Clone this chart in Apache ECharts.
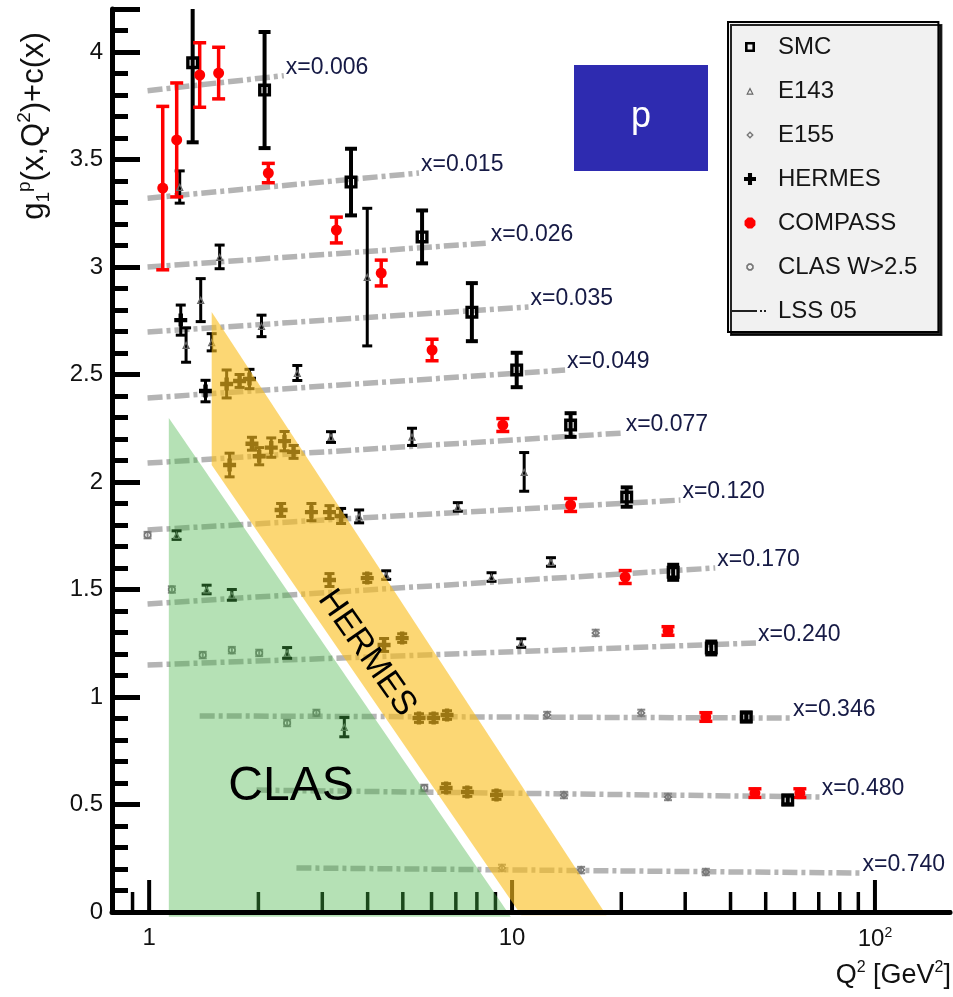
<!DOCTYPE html>
<html><head><meta charset="utf-8">
<script src="https://cdn.jsdelivr.net/npm/echarts@6/dist/echarts.min.js"></script>
<style>html,body{margin:0;padding:0;background:#fff}#c{width:953px;height:997px}</style>
</head><body><div id="c"></div>
<script>
// ---------------- data ----------------
// LSS 05 curves: [Q2, g1p + c(x)] read at the ends of each curve
const lssLabels = ['x=0.006','x=0.015','x=0.026','x=0.035','x=0.049','x=0.077','x=0.120','x=0.170','x=0.240','x=0.346','x=0.480','x=0.740'];
const lss006 = [[0.99,3.82],[2.35,3.89]];
const lss015 = [[0.99,3.32],[5.54,3.437]];
const lss026 = [[0.99,3.0],[8.63,3.112]];
const lss035 = [[0.99,2.698],[11.1,2.814]];
const lss049 = [[0.99,2.391],[14.0,2.521]];
const lss077 = [[0.99,2.088],[20.3,2.228]];
const lss120 = [[0.99,1.777],[29.1,1.916]];
const lss170 = [[0.99,1.433],[36.3,1.60]];
const lss240 = [[0.99,1.149],[47.0,1.251]];
const lss346 = [[1.378,0.912],[58.7,0.902]];
const lss480 = [[1.976,0.567],[70.5,0.535]];
const lss740 = [[2.546,0.205],[91.3,0.181]];
const lssCurves = [lss006,lss015,lss026,lss035,lss049,lss077,lss120,lss170,lss240,lss346,lss480,lss740];

// experiments: [Q2, value, error]
const SMC = [
 [1.318,3.95,0.37],[2.08,3.823,0.27],[3.60,3.395,0.155],[5.65,3.14,0.123],[7.75,2.79,0.135],
 [10.3,2.521,0.08],[14.5,2.265,0.055],[20.7,1.93,0.045],[27.8,1.58,0.035],[35.4,1.228,0.03],
 [44.2,0.907,0.02],[57.5,0.521,0.02]
];
const E143 = [
 [1.214,3.372,0.075],[1.564,3.047,0.055],[3.99,2.953,0.32],[1.387,2.846,0.1],[1.264,2.637,0.08],
 [1.487,2.65,0.04],[2.04,2.726,0.05],[2.56,2.507,0.035],[3.17,2.209,0.025],[5.30,2.21,0.04],
 [10.8,2.047,0.09],[7.09,1.884,0.02],[3.79,1.84,0.03],[1.19,1.753,0.02],[1.44,1.50,0.02],[1.69,1.475,0.025],
 [4.5,1.567,0.02],[8.78,1.558,0.02],[12.8,1.628,0.02],[2.40,1.205,0.025],[10.6,1.251,0.02],[3.45,0.86,0.045]
];
const E155 = [
 [9.38,0.205,0.015],[15.5,0.195,0.015],[34.2,0.186,0.015],[13.9,0.544,0.015],[26.9,0.535,0.015],
 [12.5,0.916,0.015],[22.7,0.926,0.015],[17.0,1.298,0.015]
];
const HERMES = [
 [1.222,2.753,0.07],[1.43,2.423,0.05],[1.635,2.456,0.065],[1.775,2.47,0.03],[1.89,2.479,0.045],
 [1.666,2.079,0.055],[1.92,2.178,0.03],[2.01,2.12,0.04],[2.17,2.16,0.045],[2.36,2.19,0.045],[2.50,2.14,0.03],
 [2.31,1.87,0.03],[2.80,1.86,0.04],[3.14,1.86,0.03],[3.38,1.842,0.035],
 [3.14,1.544,0.03],[3.99,1.553,0.02],[4.44,1.242,0.03],[4.98,1.274,0.02],
 [5.54,0.902,0.02],[6.08,0.902,0.02],[6.62,0.916,0.02],[6.58,0.577,0.02],[7.53,0.558,0.02],[9.06,0.544,0.02]
];
const COMPASS = [
 [1.09,3.367,0.38],[1.191,3.591,0.265],[1.378,3.893,0.15],[1.554,3.902,0.12],[2.13,3.437,0.045],
 [3.28,3.172,0.06],[4.36,2.972,0.06],[6.02,2.614,0.05],[9.43,2.265,0.03],[14.5,1.893,0.03],
 [20.5,1.558,0.03],[26.9,1.307,0.02],[34.2,0.907,0.02],[46.7,0.553,0.02],[62.1,0.553,0.02]
];
const CLAS = [
 [0.99,1.753,0.015],[1.155,1.50,0.015],[1.405,1.195,0.015],[1.69,1.218,0.015],[2.01,1.205,0.015],
 [2.40,0.879,0.015],[2.89,0.926,0.015],[5.73,0.577,0.015]
];
// kinematic regions [Q2, y]
const clasRegion = [[1.133,2.298],[1.133,-0.022],[9.92,-0.022]];
const hermesRegion = [[1.487,2.791],[1.487,2.079],[10.6,-0.015],[18.2,-0.015]];
// axis ticks
const xMajorTicks = [1, 10, 100];
const xMinorTicks = [0.9, 2, 3, 4, 5, 6, 7, 8, 9, 20, 30, 40, 50, 60, 70, 80, 90];

// ---------------- styles ----------------
const FONT = '"Liberation Sans", Arial, Helvetica, sans-serif';
const P_SQ = 'M0,0H10V10H0Z M2.6,2.6V7.4H7.4V2.6Z';
const P_TRI = 'M5,0L10,10H0Z M5,3.8L2.4,8.4H7.6Z';
const P_DIA = 'M5,0L10,5L5,10L0,5Z M5,2.6L2.6,5L5,7.4L7.4,5Z';
const P_RING = 'M3,0H7L10,3V7L7,10H3L0,7V3Z M4,2.2L2.2,4V6L4,7.8H6L7.8,6V4L6,2.2Z';
const P_PLUS = 'M3.3,0H6.7V3.3H10V6.7H6.7V10H3.3V6.7H0V3.3H3.3Z';
const P_DOT = 'M3,0H7L10,3V7L7,10H3L0,7V3Z';

function errSeries(name, rows, color, lw, cap, z) {
  return {
    type: 'custom', name: name + ' err', data: rows, encode: {x: 0, y: 1}, z: z, silent: true, clip: true,
    renderItem: function (params, api) {
      const x = api.value(0), y = api.value(1), e = api.value(2);
      const t = api.coord([x, y + e]), b = api.coord([x, y - e]);
      const st = {stroke: color, lineWidth: lw};
      return {type: 'group', children: [
        {type: 'line', shape: {x1: t[0], y1: t[1], x2: b[0], y2: b[1]}, style: st},
        {type: 'line', shape: {x1: t[0] - cap / 2, y1: t[1], x2: t[0] + cap / 2, y2: t[1]}, style: st},
        {type: 'line', shape: {x1: b[0] - cap / 2, y1: b[1], x2: b[0] + cap / 2, y2: b[1]}, style: st}
      ]};
    }
  };
}
function markSeries(name, rows, symbol, size, color, z) {
  return {type: 'scatter', name: name, data: rows.map(function (r) { return [r[0], r[1]]; }),
    symbol: symbol, symbolSize: size, itemStyle: {color: color, opacity: 1}, z: z, silent: true};
}
function tickSeries(vals, len, lw) {
  return {type: 'custom', data: vals.map(function (v) { return [v, 0]; }), encode: {x: 0, y: 1}, z: 3, silent: true, clip: false,
    renderItem: function (p, api) {
      const c = api.coord([api.value(0), 0]);
      return {type: 'line', shape: {x1: c[0], y1: c[1], x2: c[0], y2: c[1] - len}, style: {stroke: '#000', lineWidth: lw}};
    }};
}
function regionSeries(verts, fill) {
  return {type: 'custom', data: verts, encode: {x: 0, y: 1}, z: 5, silent: true, clip: false,
    renderItem: function (p, api) {
      if (p.dataIndex !== 0) return null;
      return {type: 'polygon', shape: {points: verts.map(function (v) { return api.coord(v); })}, style: {fill: fill}};
    }};
}

const series = [];
lssCurves.forEach(function (c, i) {
  series.push({
    type: 'line', name: 'LSS 05', data: c, showSymbol: false, symbol: 'none', z: 2, silent: true,
    lineStyle: {color: '#b4b4b4', width: 5.5, type: [15, 4, 4, 4]},
    itemStyle: {color: '#222'},
    endLabel: {show: true, formatter: lssLabels[i], color: '#161a45', fontSize: 23, fontFamily: FONT, distance: 2, offset: [0, -8]}
  });
});
series.push(errSeries('SMC', SMC, '#000', 4, 12, 3));
series.push(errSeries('E143', E143, '#000', 3, 10, 3));
series.push(errSeries('E155', E155, '#888', 2, 8, 3));
series.push(errSeries('HERMES', HERMES, '#000', 3, 10, 3));
series.push(errSeries('COMPASS', COMPASS, '#f00', 3.5, 13, 3));
series.push(errSeries('CLAS W>2.5', CLAS, '#888', 2, 8, 3));
series.push(markSeries('SMC', SMC, 'path://' + P_SQ, 13, '#000', 4));
series.push(markSeries('E143', E143, 'path://' + P_TRI, 8, '#666', 4));
series.push(markSeries('E155', E155, 'path://' + P_DIA, 9, '#777', 4));
series.push(markSeries('HERMES', HERMES, 'path://' + P_PLUS, 13, '#000', 4));
series.push(markSeries('COMPASS', COMPASS, 'circle', 11, '#f00', 4));
series.push(markSeries('CLAS W>2.5', CLAS, 'path://' + P_RING, 8, '#777', 4));
series.push(tickSeries(xMajorTicks, 32, 4));
series.push(tickSeries(xMinorTicks, 20, 3.5));
series.push(regionSeries(clasRegion, 'rgba(70,180,70,0.40)'));
series.push(regionSeries(hermesRegion, 'rgba(250,190,30,0.62)'));

const option = {
  animation: false,
  backgroundColor: '#fff',
  grid: {left: 112, right: 0, top: 9, bottom: 85},
  xAxis: [{
    type: 'log', logBase: 10, min: 0.79, max: 161, position: 'bottom', z: 6,
    axisLine: {show: true, onZero: false, lineStyle: {color: '#000', width: 4}},
    axisTick: {show: false}, minorTick: {show: false}, splitLine: {show: false},
    axisLabel: {
      margin: 14, fontSize: 24, fontFamily: FONT, color: '#111',
      formatter: function (v) {
        const e = Math.log10(v), r = Math.round(e);
        if (Math.abs(e - r) > 1e-6) return '';
        return r === 2 ? '{b|10}{s|2}' : String(Math.round(Math.pow(10, r)));
      },
      rich: {b: {fontSize: 24, fontFamily: FONT, color: '#111', lineHeight: 26},
             s: {fontSize: 14, fontFamily: FONT, color: '#111', lineHeight: 14, verticalAlign: 'top'}}
    }
  }, {
    type: 'value', position: 'top', min: 0, max: 1, z: 6,
    axisLine: {show: true, lineStyle: {color: '#000', width: 5}},
    axisTick: {show: false}, axisLabel: {show: false}, splitLine: {show: false}
  }],
  yAxis: [{
    type: 'value', min: 0, max: 4.2, interval: 0.5, position: 'left', z: 6,
    axisLine: {show: true, onZero: false, lineStyle: {color: '#000', width: 5}},
    axisTick: {show: true, inside: true, length: 28, lineStyle: {color: '#000', width: 5}},
    axisLabel: {fontSize: 24, fontFamily: FONT, color: '#111', margin: 9,
      formatter: function (v) { return v > 4.1 ? '' : String(v); }},
    splitLine: {show: false}
  }, {
    type: 'value', min: 0, max: 4.2, interval: 0.1, position: 'left', z: 6,
    axisLine: {show: false},
    axisTick: {show: true, inside: true, length: 16, lineStyle: {color: '#000', width: 5}},
    axisLabel: {show: false}, splitLine: {show: false}
  }],
  legend: {
    left: 728, top: 22, orient: 'vertical',
    padding: [12, 21, 8, 4], itemGap: 18, itemWidth: 46, itemHeight: 12,
    backgroundColor: '#f1f1f1', borderColor: '#000', borderWidth: 2,
    shadowColor: 'rgba(0,0,0,0.85)', shadowOffsetX: 3, shadowOffsetY: 3, shadowBlur: 0,
    selectedMode: false,
    textStyle: {fontSize: 24, fontFamily: FONT, color: '#151515', lineHeight: 26},
    data: [
      {name: 'SMC', icon: 'path://M-1,-1M11,11 ' + P_SQ},
      {name: 'E143', icon: 'path://M-3,-3M13,13 ' + P_TRI},
      {name: 'E155', icon: 'path://M-3,-3M13,13 ' + P_DIA},
      {name: 'HERMES', icon: 'path://' + P_PLUS},
      {name: 'COMPASS', icon: 'path://M-0.5,-0.5M10.5,10.5 ' + P_DOT},
      {name: 'CLAS W>2.5', icon: 'path://M-3,-3M13,13 ' + P_RING},
      {name: 'LSS 05', icon: 'path://M0,0M36,12 M0,5H25V7H0Z M28,5H30V7H28Z M32,5H34V7H32Z', itemStyle: {color: '#222'}}
    ]
  },
  graphic: [
    {type: 'rect', shape: {x: 574, y: 65, width: 134, height: 106}, style: {fill: '#2e2bb0'}, z: 20},
    {type: 'text', x: 641, y: 117, z: 21, style: {text: 'p', fill: '#fff', fontSize: 36, fontFamily: FONT, align: 'center', verticalAlign: 'middle'}},
    {type: 'text', x: 291, y: 787, z: 21, style: {text: 'CLAS', fill: '#000', fontSize: 48, fontFamily: FONT, align: 'center', verticalAlign: 'middle'}},
    {type: 'text', x: 367, y: 653, z: 21, rotation: -0.96, style: {text: 'HERMES', fill: '#000', fontSize: 34, fontFamily: FONT, align: 'center', verticalAlign: 'middle'}},
    {type: 'text', x: 34, y: 126, z: 21, rotation: Math.PI / 2, style: {
      text: '{m|g}{s|1}{u|p}{m|(x,Q}{u|2}{m|)+c(x)}', align: 'center', verticalAlign: 'middle',
      rich: {m: {fontSize: 31, lineHeight: 38, fontFamily: FONT, fill: '#111'},
             s: {fontSize: 19, lineHeight: 19, verticalAlign: 'bottom', fontFamily: FONT, fill: '#111'},
             u: {fontSize: 19, lineHeight: 19, verticalAlign: 'top', fontFamily: FONT, fill: '#111'}}}},
    {type: 'text', x: 951, y: 976, z: 21, style: {
      text: '{m|Q}{u|2}{m| [GeV}{u|2}{m|]}', align: 'right', verticalAlign: 'middle',
      rich: {m: {fontSize: 27, lineHeight: 32, fontFamily: FONT, fill: '#111'},
             u: {fontSize: 16, lineHeight: 16, verticalAlign: 'top', fontFamily: FONT, fill: '#111'}}}}
  ],
  series: series
};
const chart = echarts.init(document.getElementById('c'));
chart.setOption(option);
</script>
</body></html>
